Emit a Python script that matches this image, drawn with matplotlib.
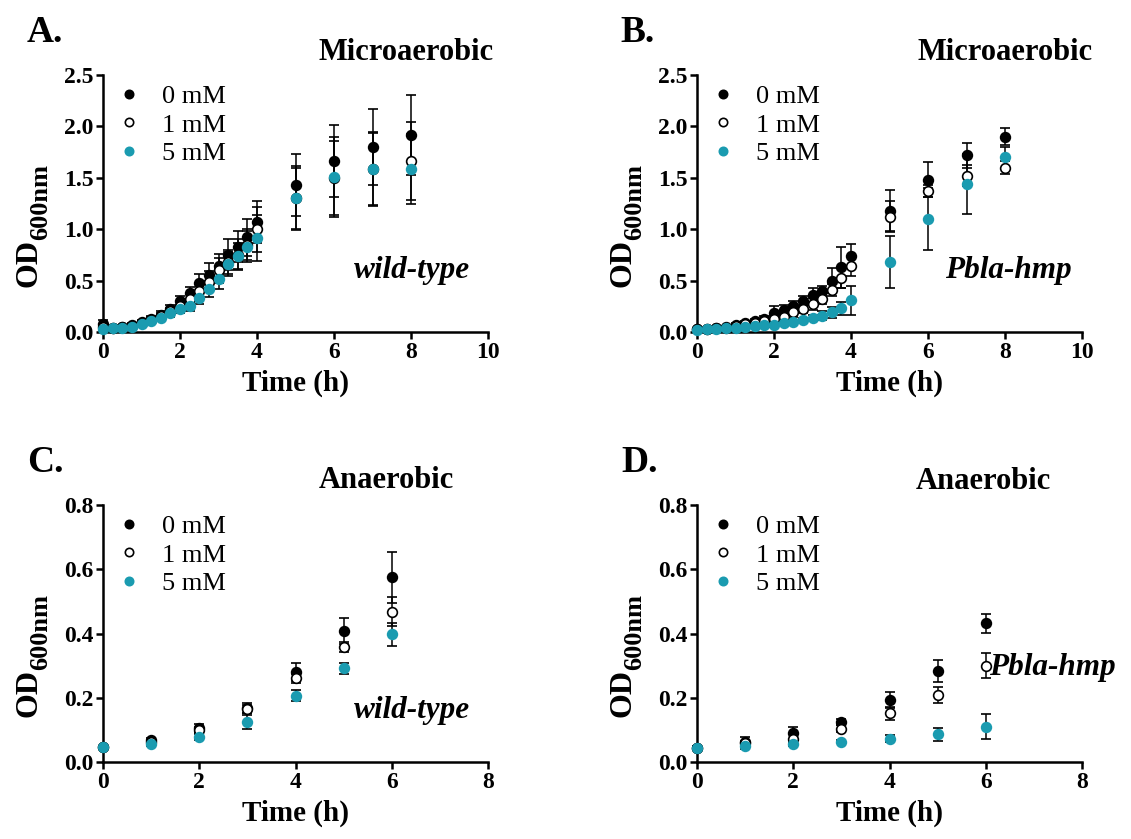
import matplotlib
matplotlib.use("Agg")
import matplotlib.pyplot as plt
from matplotlib.lines import Line2D

plt.rcParams["font.family"] = ["Liberation Serif", "DejaVu Serif"]

TEAL = "#1a9bb0"

# ---- data: microaerobic (0-4 h every 15 min, then hourly) ----
t_micro = [0, 0.25, 0.5, 0.75, 1, 1.25, 1.5, 1.75, 2, 2.25, 2.5, 2.75,
           3, 3.25, 3.5, 3.75, 4, 5, 6, 7, 8]

a_0mM = [0.075, 0.04, 0.05, 0.065, 0.095, 0.13, 0.17, 0.22, 0.30, 0.38, 0.48, 0.55,
         0.64, 0.75, 0.83, 0.92, 1.07, 1.43, 1.66, 1.80, 1.92]
a_0mM_sd = [0.04, 0.02, 0.02, 0.02, 0.02, 0.03, 0.03, 0.04, 0.05, 0.06, 0.08, 0.12,
            0.12, 0.15, 0.15, 0.18, 0.20, 0.30, 0.35, 0.37, 0.39]
a_1mM = [0.05, 0.04, 0.045, 0.06, 0.085, 0.12, 0.155, 0.20, 0.25, 0.32, 0.40, 0.49,
         0.60, 0.68, 0.75, 0.85, 1.00, 1.30, 1.50, 1.585, 1.66]
a_1mM_sd = [0.03, 0.02, 0.02, 0.02, 0.02, 0.03, 0.03, 0.03, 0.05, 0.05, 0.07, 0.10,
            0.12, 0.12, 0.15, 0.15, 0.22, 0.31, 0.36, 0.36, 0.38]
a_5mM = [0.03, 0.035, 0.04, 0.05, 0.075, 0.11, 0.14, 0.18, 0.22, 0.25, 0.33, 0.42,
         0.52, 0.66, 0.74, 0.83, 0.915, 1.30, 1.51, 1.585, 1.585]
a_5mM_sd = [0.02, 0.01, 0.01, 0.02, 0.02, 0.02, 0.03, 0.03, 0.04, 0.05, 0.06, 0.08,
            0.10, 0.12, 0.13, 0.15, 0.22, 0.30, 0.39, 0.35, 0.34]

b_0mM = [0.03, 0.03, 0.04, 0.05, 0.07, 0.09, 0.11, 0.13, 0.18, 0.21, 0.25, 0.30,
         0.36, 0.40, 0.50, 0.63, 0.74, 1.18, 1.48, 1.72, 1.90]
b_0mM_sd = [0.01, 0.01, 0.01, 0.01, 0.02, 0.02, 0.02, 0.03, 0.07, 0.05, 0.05, 0.05,
            0.07, 0.05, 0.12, 0.20, 0.12, 0.20, 0.17, 0.12, 0.08]
b_1mM = [0.03, 0.03, 0.035, 0.04, 0.06, 0.075, 0.09, 0.11, 0.13, 0.15, 0.19, 0.22,
         0.27, 0.32, 0.41, 0.53, 0.64, 1.12, 1.37, 1.52, 1.60]
b_1mM_sd = [0.01, 0.01, 0.01, 0.01, 0.01, 0.02, 0.02, 0.02, 0.03, 0.03, 0.04, 0.04,
            0.06, 0.05, 0.06, 0.10, 0.10, 0.15, 0.06, 0.10, 0.06]
b_5mM = [0.02, 0.025, 0.03, 0.035, 0.04, 0.05, 0.06, 0.07, 0.07, 0.09, 0.10, 0.12,
         0.14, 0.16, 0.19, 0.23, 0.31, 0.68, 1.10, 1.44, 1.70]
b_5mM_sd = [0.01, 0.01, 0.01, 0.01, 0.01, 0.01, 0.01, 0.02, 0.02, 0.02, 0.02, 0.02,
            0.03, 0.04, 0.05, 0.06, 0.14, 0.25, 0.30, 0.29, 0.10]

# ---- data: anaerobic (hourly) ----
t_anaer = [0, 1, 2, 3, 4, 5, 6]

c_0mM = [0.046, 0.067, 0.105, 0.168, 0.281, 0.407, 0.575]
c_0mM_sd = [0.005, 0.007, 0.012, 0.015, 0.028, 0.04, 0.08]
c_1mM = [0.046, 0.063, 0.10, 0.165, 0.26, 0.357, 0.468]
c_1mM_sd = [0.005, 0.005, 0.01, 0.012, 0.015, 0.015, 0.045]
c_5mM = [0.046, 0.055, 0.078, 0.125, 0.207, 0.292, 0.397]
c_5mM_sd = [0.005, 0.005, 0.01, 0.022, 0.017, 0.017, 0.035]

d_0mM = [0.044, 0.063, 0.089, 0.125, 0.194, 0.284, 0.432]
d_0mM_sd = [0.005, 0.015, 0.02, 0.01, 0.025, 0.035, 0.03]
d_1mM = [0.044, 0.058, 0.073, 0.104, 0.152, 0.21, 0.30]
d_1mM_sd = [0.005, 0.008, 0.015, 0.01, 0.02, 0.025, 0.04]
d_5mM = [0.044, 0.05, 0.055, 0.063, 0.073, 0.086, 0.11]
d_5mM_sd = [0.005, 0.008, 0.006, 0.005, 0.01, 0.02, 0.038]

labels = ["0 mM", "1 mM", "5 mM"]

W, H = 1131, 839
fig = plt.figure(figsize=(W / 100, H / 100), dpi=100)

STYLES = [dict(color="black", mfc="black"),
          dict(color="black", mfc="white"),
          dict(color=TEAL, mfc=TEAL)]


def px_axes(x0, x1, y0, y1):
    # pixel box -> figure fraction
    return fig.add_axes([x0 / W, 1 - y1 / H, (x1 - x0) / W, (y1 - y0) / H])


def od_label(x, y):
    # "OD" + large subscript, as GraphPad draws it
    fig.text(x / W, 1 - y / H, "OD", rotation=90, ha="left", va="bottom",
             fontsize=23, fontweight="bold")
    fig.text((x + 15) / W, 1 - (y - 47) / H, "600nm", rotation=90, ha="left",
             va="bottom", fontsize=19, fontweight="bold")


def panel(ax, t, series, xmax, ymax, ystep, title, tx, ty, strain, sx, sy):
    for (y, sd), lab, st in zip(series, labels, STYLES):
        ax.errorbar(t, y, yerr=sd, fmt="o", ms=7, mec=st["color"], mfc=st["mfc"],
                    mew=1.2, ecolor="black", elinewidth=1.1, capsize=3.5, capthick=1.1,
                    label=lab, clip_on=False, zorder=3)
    ax.set_xlim(0, xmax)
    ax.set_ylim(0, ymax)
    ax.set_xticks(range(0, xmax + 1, 2))
    yt = [i * ystep for i in range(int(round(ymax / ystep)) + 1)]
    ax.set_yticks(yt)
    ax.set_yticklabels([f"{v:.1f}" for v in yt])
    for s in ("top", "right"):
        ax.spines[s].set_visible(False)
    for s in ("left", "bottom"):
        ax.spines[s].set_linewidth(1.8)
    ax.tick_params(width=1.8, length=5, labelsize=17, pad=2)
    for lb in ax.get_xticklabels() + ax.get_yticklabels():
        lb.set_fontweight("bold")
    ax.set_xlabel("Time (h)", fontsize=21, fontweight="bold", labelpad=5)
    handles = [Line2D([], [], ls="none", marker="o", ms=6, mec=st["color"],
                      mfc=st["mfc"], mew=1.2) for st in STYLES]
    ax.legend(handles, labels, loc="upper left", bbox_to_anchor=(-0.015, 1.035),
              frameon=False, fontsize=19, handlelength=1.0, handletextpad=0.75,
              labelspacing=0.2, borderaxespad=0.3)
    ax.text(tx, ty, title, transform=ax.transAxes, ha="center", va="center",
            fontsize=22, fontweight="bold")
    ax.text(sx, sy, strain, transform=ax.transAxes, ha="center", va="center",
            fontsize=22.5, fontweight="bold", style="italic", clip_on=False)


axA = px_axes(103, 488, 75, 332)
axB = px_axes(697, 1082, 75, 332)
axC = px_axes(103, 488, 505, 762)
axD = px_axes(697, 1082, 505, 762)

panel(axA, t_micro, [(a_0mM, a_0mM_sd), (a_1mM, a_1mM_sd), (a_5mM, a_5mM_sd)],
      10, 2.5, 0.5, "Microaerobic", 0.787, 1.086, "wild-type", 0.803, 0.241)
panel(axB, t_micro, [(b_0mM, b_0mM_sd), (b_1mM, b_1mM_sd), (b_5mM, b_5mM_sd)],
      10, 2.5, 0.5, "Microaerobic", 0.80, 1.086, "Pbla-hmp", 0.808, 0.241)
panel(axC, t_anaer, [(c_0mM, c_0mM_sd), (c_1mM, c_1mM_sd), (c_5mM, c_5mM_sd)],
      8, 0.8, 0.2, "Anaerobic", 0.735, 1.097, "wild-type", 0.803, 0.202)
panel(axD, t_anaer, [(d_0mM, d_0mM_sd), (d_1mM, d_1mM_sd), (d_5mM, d_5mM_sd)],
      8, 0.8, 0.2, "Anaerobic", 0.745, 1.09, "Pbla-hmp", 0.922, 0.366)

for x, y in [(14, 287), (608, 287), (14, 717), (608, 717)]:
    od_label(x, y)

for letter, x, y in [("A.", 27, 33), ("B.", 620, 33), ("C.", 27, 462), ("D.", 621, 463)]:
    fig.text(x / W, 1 - y / H, letter, ha="left", va="center", fontsize=27,
             fontweight="bold")

fig.savefig("out.png", dpi=100)
